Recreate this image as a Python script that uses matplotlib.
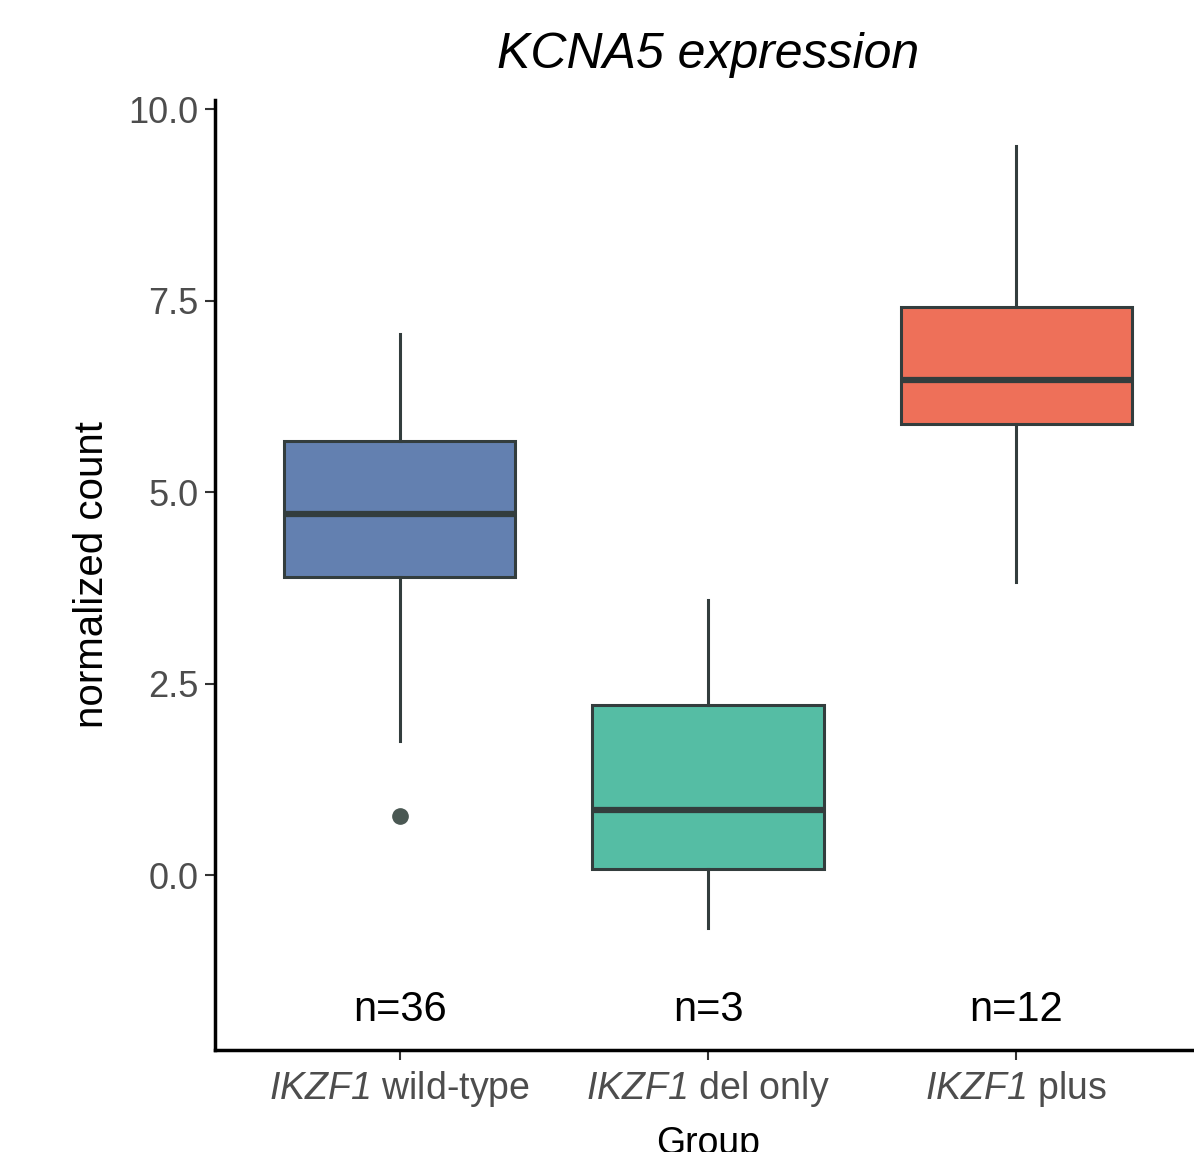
import matplotlib
matplotlib.use("Agg")
import matplotlib.pyplot as plt

plt.rcParams['font.family'] = ['Liberation Sans', 'DejaVu Sans']
plt.rcParams['mathtext.fontset'] = 'custom'
plt.rcParams['mathtext.rm'] = 'Liberation Sans'
plt.rcParams['mathtext.it'] = 'Liberation Sans:italic'
plt.rcParams['mathtext.sf'] = 'Liberation Sans:italic'

groups = [r"$\mathsf{IKZF1}$ wild-type", r"$\mathsf{IKZF1}$ del only", r"$\mathsf{IKZF1}$ plus"]
counts = [36, 3, 12]
q1 = [3.89, 0.08, 5.89]
med = [4.72, 0.85, 6.47]
q3 = [5.67, 2.22, 7.42]
wlo = [1.76, -0.69, 3.83]
whi = [7.07, 3.59, 9.52]
outliers = [[0.77], [], []]
colors = ["#6380B0", "#55BDA4", "#EE7059"]
edge = "#333D3D"

fig = plt.figure(figsize=(11.94, 11.52), dpi=100)
ax = fig.add_axes([0.180, 0.0885, 0.826, 0.8247])

stats = []
for i in range(3):
    stats.append(dict(med=med[i], q1=q1[i], q3=q3[i], whislo=wlo[i], whishi=whi[i], fliers=outliers[i]))
pos = [1, 2, 3]
bp = ax.bxp(stats, positions=pos, widths=0.75, patch_artist=True, showcaps=False,
            boxprops=dict(edgecolor=edge, linewidth=2.2),
            medianprops=dict(color=edge, linewidth=4.5, solid_capstyle='butt'),
            whiskerprops=dict(color=edge, linewidth=2.2),
            flierprops=dict(marker='o', markerfacecolor='#4A5853', markeredgecolor='#4A5853', markersize=11))
for p, c in zip(bp['boxes'], colors):
    p.set_facecolor(c)

for x, n in zip(pos, counts):
    ax.text(x, -1.76, f"n={n}", ha='center', va='center', fontsize=30, color='black')

ax.set_xlim(0.4, 3.6)
ax.set_ylim(-2.28, 10.12)
ax.set_yticks([0, 2.5, 5, 7.5, 10])
ax.set_yticklabels(["0.0", "2.5", "5.0", "7.5", "10.0"])
ax.set_xticks(pos)
ax.set_xticklabels(groups)
ax.tick_params(axis='both', labelsize=26, labelcolor='#4D4D4D', color='#333333', length=7, width=1.5)
ax.tick_params(axis='x', labelsize=27, pad=7)
ax.tick_params(axis='y', pad=5)
for s in ['top', 'right']:
    ax.spines[s].set_visible(False)
for s in ['left', 'bottom']:
    ax.spines[s].set_linewidth(2.5)
    ax.spines[s].set_color('black')

ax.set_ylabel("normalized count", fontsize=29, labelpad=12)
ax.set_xlabel("Group", fontsize=27, labelpad=12)
fig.text(0.593, 0.952, "KCNA5 expression", ha='center', va='center', fontsize=36, style='italic')

fig.savefig("out.png", dpi=100)
